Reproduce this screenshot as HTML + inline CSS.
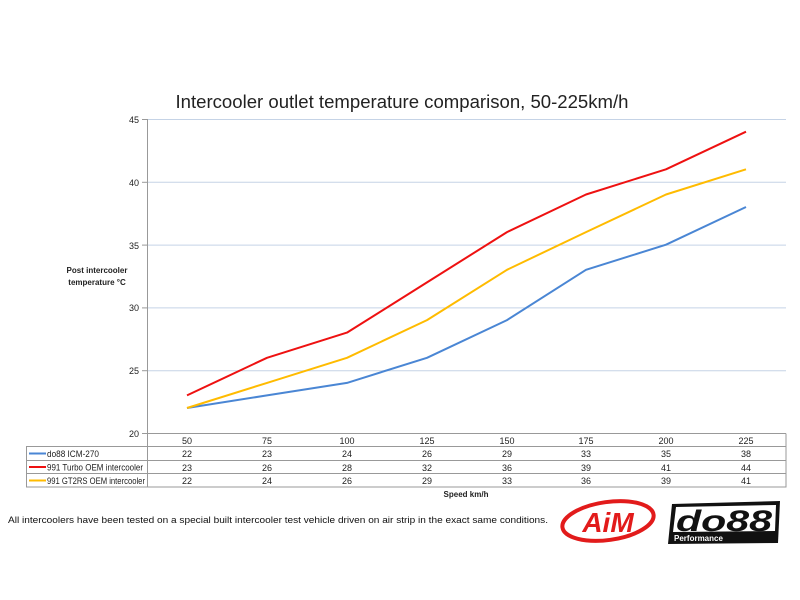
<!DOCTYPE html>
<html><head><meta charset="utf-8"><style>body{margin:0;background:#fff}svg{display:block}</style></head><body>
<svg width="800" height="600" xmlns="http://www.w3.org/2000/svg" font-family="Liberation Sans, sans-serif">
<rect width="800" height="600" fill="#fff"/>
<text x="402" y="108" font-size="18" text-anchor="middle" fill="#222" textLength="453" lengthAdjust="spacingAndGlyphs">Intercooler outlet temperature comparison, 50-225km/h</text>
<g stroke="#c5d3e6" stroke-width="1">
<line x1="147" y1="119.5" x2="786" y2="119.5"/>
<line x1="147" y1="182.3" x2="786" y2="182.3"/>
<line x1="147" y1="245.1" x2="786" y2="245.1"/>
<line x1="147" y1="307.9" x2="786" y2="307.9"/>
<line x1="147" y1="370.7" x2="786" y2="370.7"/>
</g>
<g stroke="#999" stroke-width="1" fill="none">
<line x1="147.5" y1="119" x2="147.5" y2="487"/>
<line x1="142" y1="433.5" x2="786" y2="433.5"/>
<line x1="142" y1="119.5" x2="147" y2="119.5"/><line x1="142" y1="182.3" x2="147" y2="182.3"/><line x1="142" y1="245.1" x2="147" y2="245.1"/><line x1="142" y1="307.9" x2="147" y2="307.9"/><line x1="142" y1="370.7" x2="147" y2="370.7"/>
<rect x="26.5" y="446.5" width="759.5" height="40.5"/>
<line x1="786" y1="433.5" x2="786" y2="487"/>
<line x1="26" y1="460.5" x2="786" y2="460.5"/>
<line x1="26" y1="473.5" x2="786" y2="473.5"/>
</g>
<g font-size="9" fill="#222" text-anchor="end">
<text x="139" y="123">45</text><text x="139" y="186">40</text><text x="139" y="249">35</text><text x="139" y="311">30</text><text x="139" y="374">25</text><text x="139" y="437">20</text>
</g>
<g font-size="8" font-weight="bold" fill="#222" text-anchor="middle">
<text x="97" y="273">Post intercooler</text><text x="97" y="285">temperature °C</text>
<text x="466" y="497">Speed km/h</text>
</g>
<g font-size="9" fill="#222" text-anchor="middle">
<text x="187" y="444">50</text><text x="267" y="444">75</text><text x="347" y="444">100</text><text x="427" y="444">125</text><text x="507" y="444">150</text><text x="586" y="444">175</text><text x="666" y="444">200</text><text x="746" y="444">225</text>
<text x="187" y="457">22</text><text x="267" y="457">23</text><text x="347" y="457">24</text><text x="427" y="457">26</text><text x="507" y="457">29</text><text x="586" y="457">33</text><text x="666" y="457">35</text><text x="746" y="457">38</text>
<text x="187" y="471">23</text><text x="267" y="471">26</text><text x="347" y="471">28</text><text x="427" y="471">32</text><text x="507" y="471">36</text><text x="586" y="471">39</text><text x="666" y="471">41</text><text x="746" y="471">44</text>
<text x="187" y="484">22</text><text x="267" y="484">24</text><text x="347" y="484">26</text><text x="427" y="484">29</text><text x="507" y="484">33</text><text x="586" y="484">36</text><text x="666" y="484">39</text><text x="746" y="484">41</text>
</g>
<g font-size="9" fill="#222">
<line x1="29" y1="453.5" x2="46" y2="453.5" stroke="#4a86d4" stroke-width="2"/><text x="47" y="457" textLength="52" lengthAdjust="spacingAndGlyphs">do88 ICM-270</text>
<line x1="29" y1="467" x2="46" y2="467" stroke="#ee1111" stroke-width="2"/><text x="47" y="470.5" textLength="96" lengthAdjust="spacingAndGlyphs">991 Turbo OEM intercooler</text>
<line x1="29" y1="480.5" x2="46" y2="480.5" stroke="#ffbb00" stroke-width="2"/><text x="47" y="484" textLength="98" lengthAdjust="spacingAndGlyphs">991 GT2RS OEM intercooler</text>
</g>
<g fill="none" stroke-width="2" stroke-linejoin="round">
<polyline stroke="#4a86d4" points="187,408 267,395.4 347,382.9 427,357.8 507,320.1 586,269.8 666,244.7 746,207"/>
<polyline stroke="#ffbb00" points="187,408 267,382.9 347,357.8 427,320.1 507,269.8 586,232.1 666,194.5 746,169.3"/>
<polyline stroke="#ee1111" points="187,395.4 267,357.8 347,332.6 427,282.4 507,232.1 586,194.5 666,169.3 746,131.7"/>
</g>
<text x="8" y="523" font-size="9" fill="#111" textLength="540" lengthAdjust="spacingAndGlyphs">All intercoolers have been tested on a special built intercooler test vehicle driven on air strip in the exact same conditions.</text>
<ellipse cx="608" cy="521" rx="46" ry="19" fill="none" stroke="#e21b1b" stroke-width="4" transform="rotate(-8 608 521)"/>
<text x="608" y="532" font-size="28" font-weight="bold" font-style="italic" fill="#e21b1b" text-anchor="middle">AiM</text>
<polygon points="672,504 780,501 778,543 668,544" fill="#111"/>
<polygon points="676,507 776,505 775,531 673,532" fill="#fff"/>
<text x="724" y="531" font-size="30" font-weight="bold" font-style="italic" fill="#111" text-anchor="middle" textLength="96" lengthAdjust="spacingAndGlyphs">do88</text>
<text x="674" y="541" font-size="8" font-weight="bold" fill="#fff">Performance</text>
</svg>
</body></html>
